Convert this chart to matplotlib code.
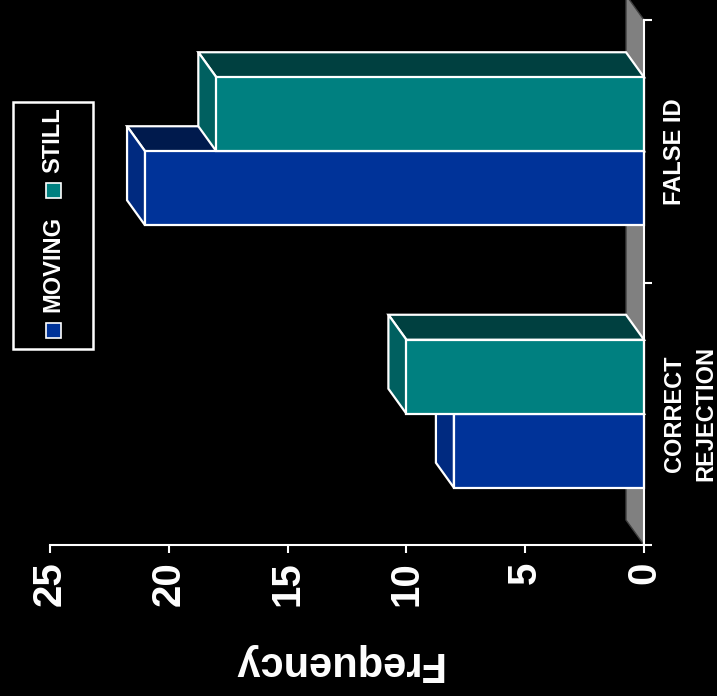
import matplotlib
matplotlib.use("Agg")
import matplotlib.pyplot as plt
from matplotlib.patches import Polygon, Rectangle

plt.rcParams['font.family'] = ['Liberation Sans', 'DejaVu Sans']
plt.rcParams['font.weight'] = 'bold'

categories = ["FALSE ID", "CORRECT\nREJECTION"]
series = ["MOVING", "STILL"]
moving = [21, 8]
still = [18, 10]
value_ticks = [0, 5, 10, 15, 20, 25]

# front, end, top face colours for each series
colors = {
    "MOVING": ("#003399", "#002a80", "#001a4d"),
    "STILL": ("#008080", "#006060", "#004040"),
}

W, H = 717, 696
fig = plt.figure(figsize=(W / 100, H / 100), dpi=100, facecolor="black")


def fpos(x, y):
    return x / W, 1 - y / H


ax = fig.add_axes([50 / W, 1 - 545 / H, 594 / W, 525 / H])
ax.set_facecolor("black")
ax.set_xlim(25, 0)
ax.set_ylim(2, 0)

# 3d depth offset in data units
dv = 18 / (594 / 25)
dy = -25 / (525 / 2)
bar_h = 74 / 262.5

# gray floor strip along the category axis
wall = Polygon([(0, 0), (dv, dy), (dv, 2 + dy), (0, 2)], closed=True,
               facecolor="#808080", edgecolor="#404040", lw=1, clip_on=False, zorder=1)
ax.add_patch(wall)


def draw_bar(v, y0, y1, cols):
    front, end, top = cols
    kw = dict(closed=True, edgecolor="white", lw=1.6, clip_on=False, zorder=2, joinstyle="miter")
    ax.add_patch(Polygon([(0, y0), (v, y0), (v + dv, y0 + dy), (dv, y0 + dy)], facecolor=top, **kw))
    ax.add_patch(Polygon([(v, y0), (v, y1), (v + dv, y1 + dy), (v + dv, y0 + dy)], facecolor=end, **kw))
    ax.add_patch(Polygon([(0, y0), (v, y0), (v, y1), (0, y1)], facecolor=front, **kw))


for i in range(len(categories)):
    c = i + 0.5
    draw_bar(moving[i], c, c + bar_h, colors["MOVING"])
    draw_bar(still[i], c - bar_h, c, colors["STILL"])

# axes
for s in ["left", "top"]:
    ax.spines[s].set_visible(False)
for s in ["bottom", "right"]:
    ax.spines[s].set_color("white")
    ax.spines[s].set_linewidth(1.5)
    ax.spines[s].set_zorder(3)

ax.set_xticks(value_ticks)
ax.set_xticklabels([str(t) for t in value_ticks], rotation=90, fontsize=29,
                   fontweight="bold", color="white", va="top", ha="center")
ax.tick_params(axis="x", colors="white", length=5.8, width=1.5, pad=6)

ax.yaxis.tick_right()
ax.set_yticks([0, 1, 2])
ax.set_yticklabels([])
ax.set_yticks([0.5, 1.5], minor=True)
ax.set_yticklabels(categories, minor=True, rotation=90, fontsize=17,
                   fontweight="bold", color="white", ha="left", va="center",
                   multialignment="center", linespacing=1.45)
ax.tick_params(axis="y", which="major", colors="white", length=5.8, width=1.5)
ax.tick_params(axis="y", which="minor", length=0, pad=14, colors="white")

fig.text(*fpos(337, 663), "Frequency", rotation=180, fontsize=30, fontweight="bold",
         color="white", ha="center", va="center")

# legend box
lx, ly = fpos(13, 349)
fig.add_artist(Rectangle((lx, ly), 80 / W, 247 / H, transform=fig.transFigure,
                         facecolor="black", edgecolor="white", lw=1.8))
for name, y_sq, y_txt in [("MOVING", 338, 264), ("STILL", 198, 140)]:
    sx, sy = fpos(46, y_sq)
    fig.add_artist(Rectangle((sx, sy), 15 / W, 15 / H, transform=fig.transFigure,
                             facecolor=colors[name][0], edgecolor="white", lw=1.2))
    fig.text(*fpos(53, y_txt), name, rotation=90, fontsize=17, fontweight="bold",
             color="white", ha="center", va="center")

fig.savefig("out.png", dpi=100, facecolor="black")
